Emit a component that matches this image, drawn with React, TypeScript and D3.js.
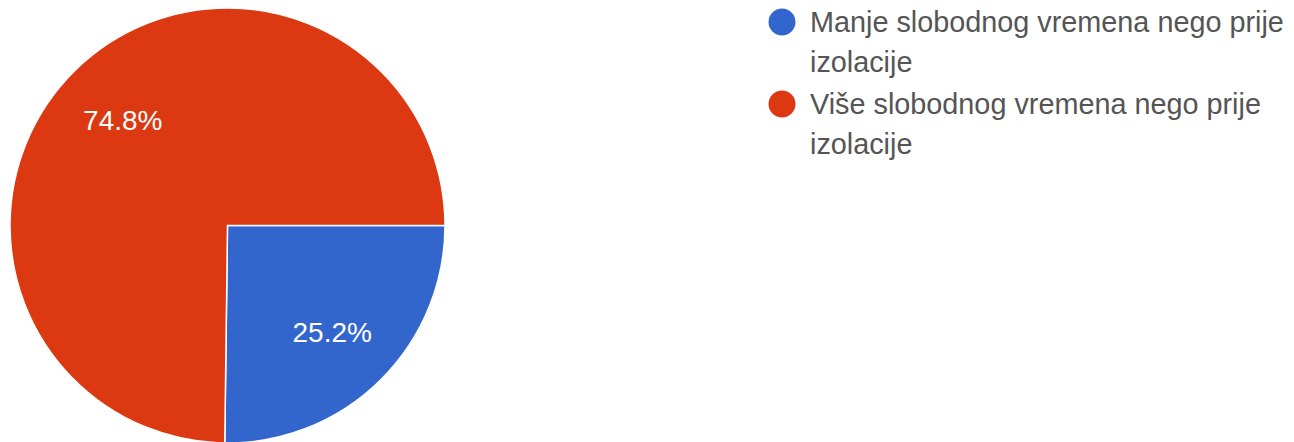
import React from "react";
import * as d3 from "d3";

// answer categories and their shares (%)
const categories = [
  "Manje slobodnog vremena nego prije izolacije",
  "Više slobodnog vremena nego prije izolacije",
];
const shares = [25.2, 74.8];
const colors = ["#3366cc", "#dc3912"];
const legendLines = [
  ["Manje slobodnog vremena nego prije", "izolacije"],
  ["Više slobodnog vremena nego prije", "izolacije"],
];

const width = 1294;
const height = 442;

export default function App() {
  const cx = 227.5,
    cy = 225.5,
    radius = 217.5;

  const pie = d3
    .pie<number>()
    .sort(null)
    .startAngle(Math.PI / 2)
    .endAngle(Math.PI / 2 + 2 * Math.PI);
  const arcs = pie(shares);

  const arc = d3.arc<d3.PieArcDatum<number>>().innerRadius(0).outerRadius(radius);
  const labelArc = d3
    .arc<d3.PieArcDatum<number>>()
    .innerRadius(149)
    .outerRadius(149);

  const font = "Arial, 'Liberation Sans', sans-serif";

  return (
    <svg
      width={width}
      height={height}
      style={{ position: "absolute", left: 0, top: 0, background: "#fff" }}
    >
      <g transform={`translate(${cx},${cy})`}>
        {arcs.map((a, i) => (
          <path
            key={categories[i]}
            d={arc(a) || ""}
            fill={colors[i]}
            stroke="#fff"
            strokeWidth={1.5}
          />
        ))}
        {arcs.map((a, i) => {
          const [x, y] = labelArc.centroid(a);
          return (
            <text
              key={"l" + i}
              x={x}
              y={y}
              dy="0.36em"
              textAnchor="middle"
              fill="#fff"
              fontFamily={font}
              fontSize={28}
            >
              {shares[i].toFixed(1)}%
            </text>
          );
        })}
      </g>
      {legendLines.map((lines, i) => (
        <g key={"lg" + i} transform={`translate(782,${22 + i * 82})`}>
          <circle r={13.5} fill={colors[i]} />
          {lines.map((t, j) => (
            <text
              key={j}
              x={28}
              y={j * 40}
              dy="0.36em"
              fill="#555"
              fontFamily={font}
              fontSize={28.8}
            >
              {t}
            </text>
          ))}
        </g>
      ))}
    </svg>
  );
}
